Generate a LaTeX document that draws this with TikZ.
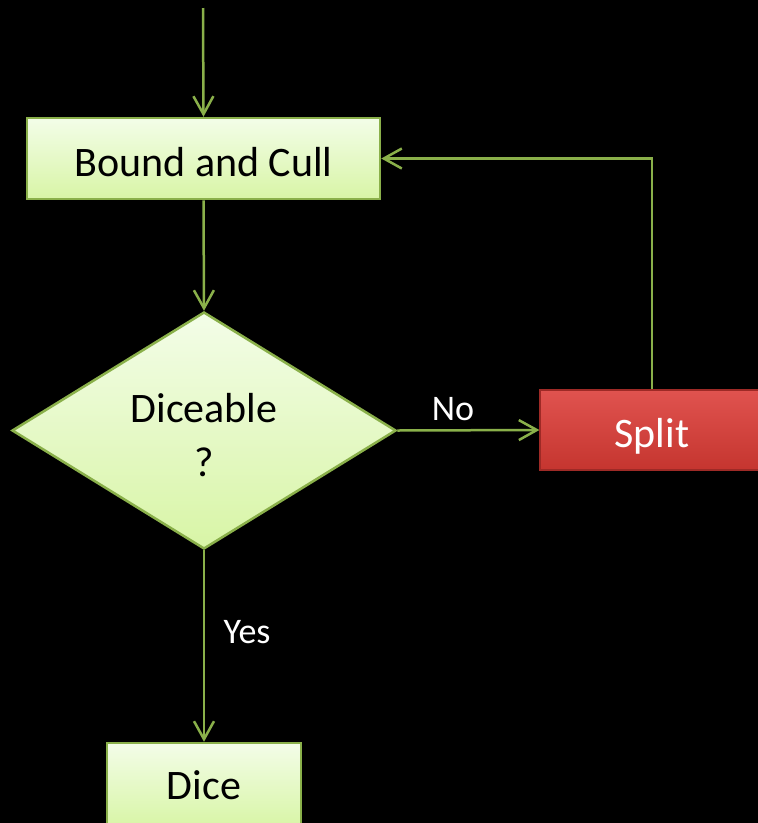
\documentclass[tikz,border=0pt]{standalone}
\usepackage{fontspec}
\setmainfont{Carlito}
\usetikzlibrary{shapes.geometric,arrows.meta}
\definecolor{flowline}{HTML}{8AB04A}
\definecolor{boxtop}{HTML}{F3FDE8}
\definecolor{boxbot}{HTML}{D8F5A6}
\definecolor{redtop}{HTML}{E0534F}
\definecolor{redbot}{HTML}{C5352F}
\definecolor{rededge}{HTML}{9E2A26}
% invisible strut that lowers a line of text inside its node
\newcommand{\lowerstrut}[1]{\rule{0pt}{#1}}
\begin{document}
\begin{tikzpicture}[x=1pt,y=-1pt,
  flowbox/.style={draw=flowline,line width=2.5pt,top color=boxtop,bottom color=boxbot,
    inner sep=0pt,font=\fontsize{42}{50}\selectfont,text=black},
  decision/.style={flowbox,diamond,aspect=1.62,align=center},
  actbox/.style={draw=rededge,line width=1.2pt,top color=redtop,bottom color=redbot,
    inner sep=0pt,font=\fontsize{42}{50}\selectfont,text=white,text depth=0pt},
  flow/.style={draw=flowline,line width=2.5pt,-{Straight Barb[length=18pt,width=20pt,line width=2.5pt]}},
  lbl/.style={font=\fontsize{36}{42}\selectfont,text=white,inner sep=0pt}]
  \fill[black] (0,0) rectangle (758,823);
  \useasboundingbox (0,0) rectangle (758,823);

  \coordinate (start) at (203,8);
  \node[flowbox,minimum width=353pt,minimum height=81pt] (bound) at (203.5,158.5)
    {\lowerstrut{37pt}Bound and Cull};
  \node[decision,minimum width=384pt,minimum height=237pt] (dice?) at (204,430.5)
    {\lowerstrut{39pt}Diceable\\[4pt]?};
  \node[actbox,minimum width=224pt,minimum height=80pt] (split) at (652,430)
    {\lowerstrut{35pt}Split};
  \node[flowbox,minimum width=194pt,minimum height=84pt] (dice) at (204,785) {Dice};

  \draw[flow] (start) -- (bound.north);
  \draw[flow] (bound.south) -- (dice?.north);
  \draw[flow] (dice?.east) -- (split.west);
  \draw[flow] (dice?.south) -- (dice.north);
  \draw[flow] (split.north) |- (bound.east);

  \node[lbl] (no) at (453,409) {No};
  \node[lbl] (yes) at (247,632) {Yes};
\end{tikzpicture}
\end{document}
